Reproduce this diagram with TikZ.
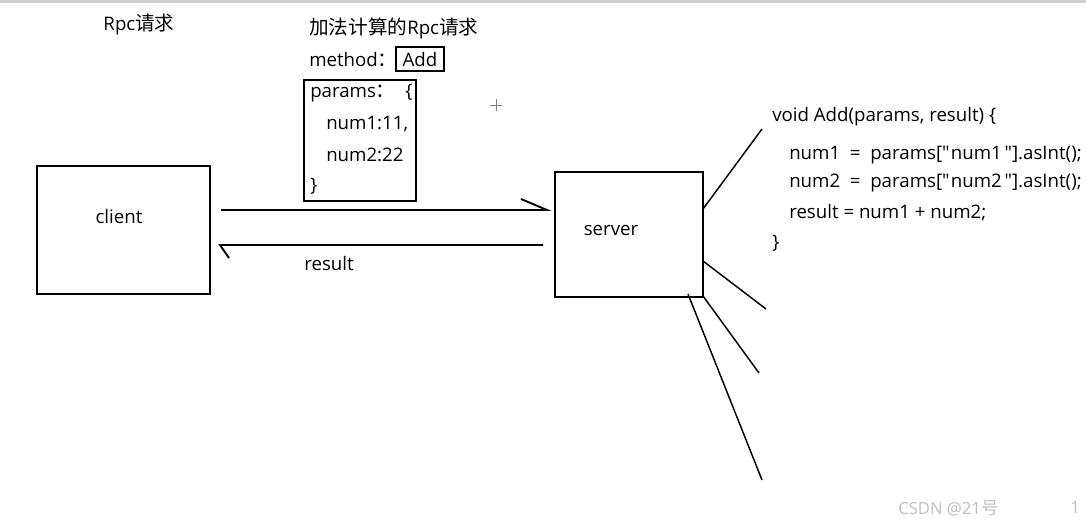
\documentclass[tikz,border=0pt]{standalone}
\usepackage{fontspec}
\usetikzlibrary{calc}
\setmainfont{Open Sans}
\newfontfamily\cjk[Scale=1.05]{Noto Sans CJK SC}
\newfontfamily\codefont[WordSpace=2]{Open Sans}
\begin{document}
\begin{tikzpicture}[x=0.75pt,y=-0.75pt,
  ln/.style={line width=1.4pt,black},
  lbl/.style={font=\fontsize{14pt}{16pt}\selectfont,inner sep=0pt,anchor=west},
  codew/.style={font=\codefont\fontsize{14pt}{16pt}\selectfont,inner sep=0pt,anchor=west},
  wm/.style={font=\fontsize{12.5pt}{15pt}\selectfont,text=black!25,inner sep=0pt,anchor=west}]
\useasboundingbox (0,0) rectangle (1086,525);
\fill[white] (0,0) rectangle (1086,525);
\fill[black!18] (0,0) rectangle (1086,3);
% texts
\node[lbl,anchor=center] (t1) at (139,25) {Rpc{\cjk 请求}};
\node[lbl] (t2) at (309,28) {{\cjk 加法计算的}Rpc{\cjk 请求}};
\node[lbl] (t3) at (309,59) {method{\cjk ：}};
% client & server
\draw[ln] (37,166) rectangle (210,294);
\node[lbl,anchor=center] (client) at (119,216) {client};
\draw[ln] (555,172) rectangle (703,297);
\node[lbl,anchor=center] (server) at (611,231) {server};
% Add box
\draw[ln] (396,47) rectangle (444,71);
\node[lbl,anchor=center] (add) at (420,59) {Add};
% params box
\draw[ln] (304,80) rectangle (416,201);
\node[lbl] (p1) at (310,93) {params{\cjk ：}\ \ \{};
\node[lbl] (p2) at (326,124) {num1:11,};
\node[lbl] (p3) at (326,155) {num2:22};
\node[lbl] (p4) at (310,186) {\}};
% arrows
\coordinate (a1s) at (221,210);
\coordinate (a1e) at (547,210);
\coordinate (a1b) at (521,199);
\draw[ln] (a1s) -- (a1e) -- (a1b);
\coordinate (a2s) at (543,245);
\coordinate (a2e) at (220,245);
\coordinate (a2b) at (229,258);
\draw[ln] (a2s) -- (a2e) -- (a2b);
\node[lbl,anchor=center] (res) at (329,263) {result};
% code
\node[lbl] (c1) at (772,117) {void Add(params, result) \{};
\node[codew] (c2) at (789,155) {num1 = params[\char"22\kern1pt num1\kern2pt\char"22].asInt();};
\node[codew] (c3) at (789,183) {num2 = params[\char"22\kern1pt num2\kern2pt\char"22].asInt();};
\node[lbl] (c4) at (789,213) {result = num1 + num2;};
\node[lbl] (c5) at (772,243) {\}};
% rays from server
\coordinate (s1) at (703,209);
\coordinate (e1) at (762,129);
\coordinate (s2) at (703,261);
\coordinate (e2) at (766,309);
\coordinate (s3) at (703,296);
\coordinate (e3) at (759,373);
\coordinate (s4) at (688,294);
\coordinate (e4) at (762,480);
\draw[line width=1.1pt] (s1) -- (e1);
\draw[line width=1.1pt] (s2) -- (e2);
\draw[line width=1.1pt] (s3) -- (e3);
\draw[line width=1.1pt] (s4) -- (e4);
% cursor mark
\coordinate (cm) at (496,105);
\draw[black!50,line width=0.5pt] ($(cm)+(-6,0)$) -- ($(cm)+(6,0)$) ($(cm)+(0,-6)$) -- ($(cm)+(0,6)$);
% watermark
\node[wm] (w1) at (898,508) {CSDN @21{\cjk 号}};
\node[wm] (w2) at (1070,508) {1};
\end{tikzpicture}
\end{document}
